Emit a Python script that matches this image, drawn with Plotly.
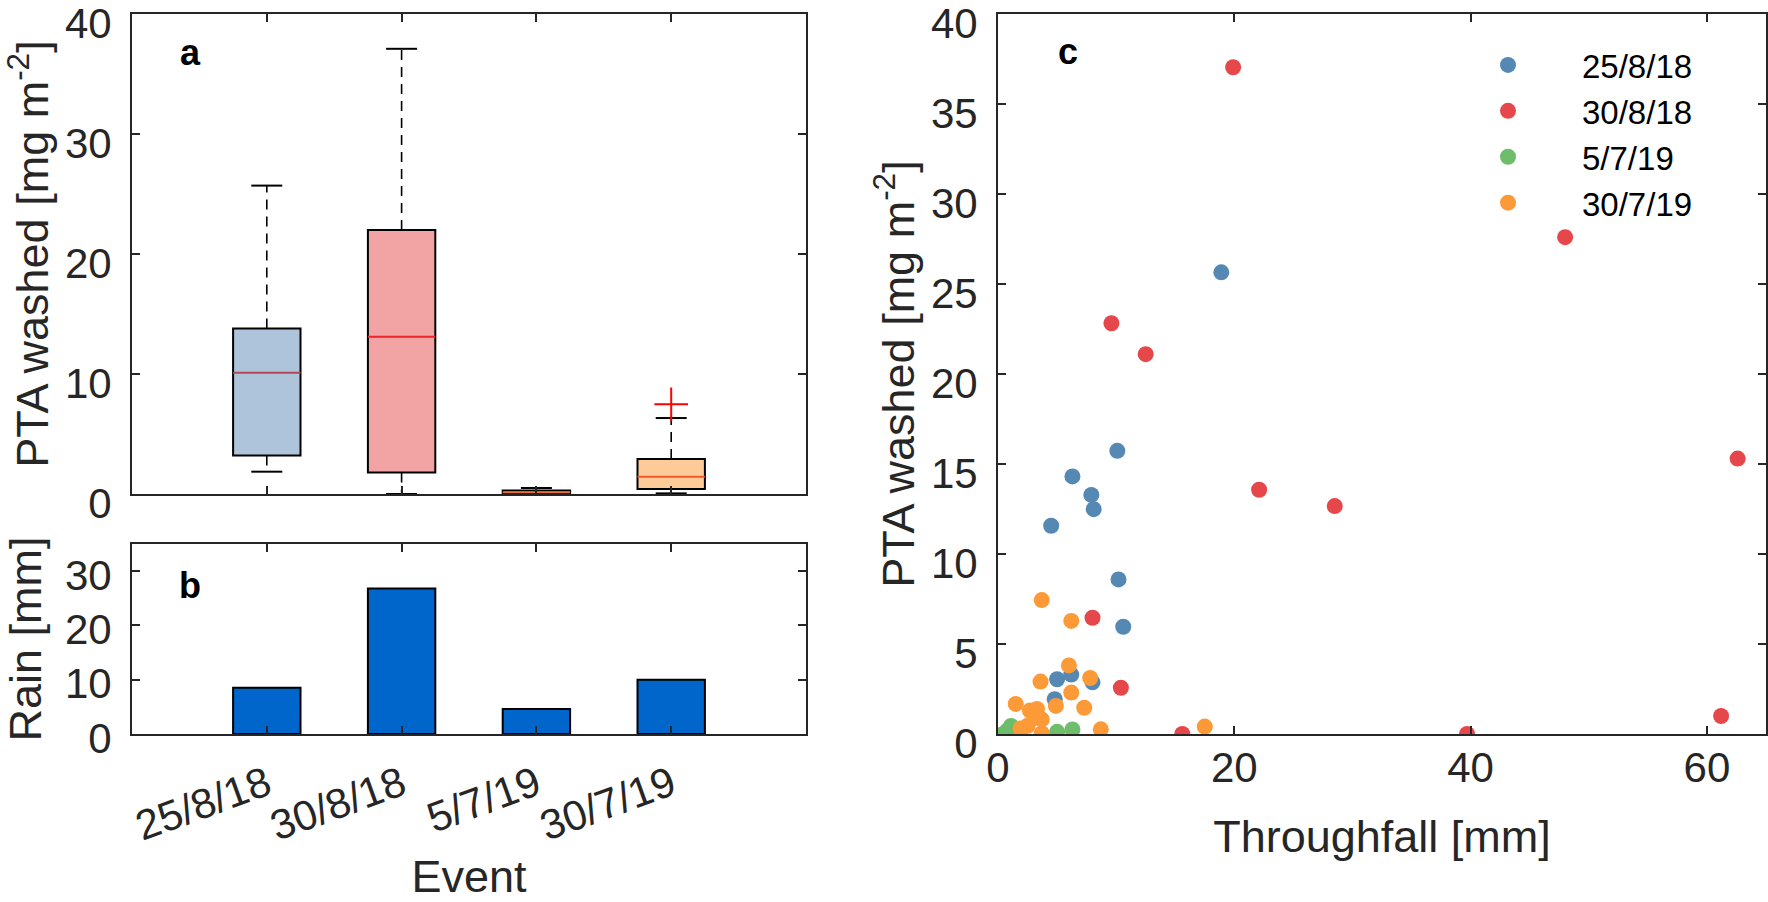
import plotly.graph_objects as go

# ---------------- data ----------------
events = ["25/8/18", "30/8/18", "5/7/19", "30/7/19"]

# panel a: box statistics (PTA washed, mg m-2)
box_lo = [1.86, 0.0, 0.0, 0.05]
box_q1 = [3.2, 1.8, 0.05, 0.42]
box_med = [10.1, 13.1, 0.15, 1.44]
box_q3 = [13.8, 22.0, 0.30, 2.92]
box_hi = [25.7, 37.1, 0.50, 6.33]
outlier_event = ["30/7/19"]
outlier_val = [7.47]

# panel b: rain (mm)
rain = [8.5, 26.8, 4.6, 10.0]

# panel c: throughfall (mm) vs PTA washed (mg m-2)
tf_25_8_18 = [18.9, 10.1, 6.3, 7.9, 8.1, 4.5, 10.2, 10.6, 5.0, 6.2, 8.0, 4.8]
pta_25_8_18 = [25.65, 15.73, 14.31, 13.28, 12.49, 11.57, 8.59, 5.96, 3.04, 3.30, 2.87, 1.93]
tf_30_8_18 = [19.9, 9.6, 12.5, 22.1, 28.5, 48.0, 62.6, 8.0, 10.4, 61.2, 15.6, 39.7]
pta_30_8_18 = [37.04, 22.82, 21.1, 13.57, 12.66, 27.6, 15.3, 6.46, 2.57, 1.0, 0.0, 0.0]
tf_5_7_19 = [0.4, 0.65, 0.8, 0.95, 1.1, 1.6, 1.9, 5.0, 6.3]
pta_5_7_19 = [0.0, 0.02, 0.2, 0.05, 0.45, 0.1, 0.2, 0.12, 0.25]
tf_30_7_19 = [3.7, 6.2, 6.0, 3.6, 7.8, 6.2, 1.5, 4.9, 7.3, 2.7, 3.3, 3.7, 2.5, 1.9, 3.7, 8.7, 17.5, 3.1]
pta_30_7_19 = [7.44, 6.28, 3.81, 2.91, 3.11, 2.30, 1.67, 1.56, 1.46, 1.30, 1.39, 0.81, 0.46, 0.31, 0.04, 0.26, 0.41, 0.9]

# ---------------- styles ----------------
FONT = "Liberation Sans, Arial, Helvetica, sans-serif"
AX = "#262626"
scatter_colors = ["#5588b3", "#e6474a", "#6dbd6b", "#fd9a38"]
box_fill = ["#adc4da", "#f2a4a5", "#b5652e", "#fdcb98"]
box_median = ["#b5475a", "#e8262b", "#f07030", "#f1592a"]
bar_color = "#0066cc"

pos = [i + 1 for i in range(len(events))]
half_box = 0.25
half_cap = 0.115

fig = go.Figure()

# ---- panel a : boxes ----
fig.add_trace(go.Bar(
    x=pos, y=[h - l for h, l in zip(box_q3, box_q1)], base=box_q1, width=0.5,
    marker=dict(color=box_fill, line=dict(color="black", width=2)),
    xaxis="x", yaxis="y", showlegend=False, hoverinfo="skip"))

for i, p in enumerate(pos):
    fig.add_trace(go.Scatter(
        x=[p, p, None, p, p], y=[box_q3[i], box_hi[i], None, box_q1[i], box_lo[i]],
        mode="lines", line=dict(color="black", width=1.6, dash="10px,7px"),
        xaxis="x", yaxis="y", showlegend=False, hoverinfo="skip"))
    fig.add_trace(go.Scatter(
        x=[p - half_cap, p + half_cap, None, p - half_cap, p + half_cap],
        y=[box_hi[i], box_hi[i], None, box_lo[i], box_lo[i]],
        mode="lines", line=dict(color="black", width=2),
        xaxis="x", yaxis="y", showlegend=False, hoverinfo="skip"))
    fig.add_trace(go.Scatter(
        x=[p - half_box, p + half_box], y=[box_med[i], box_med[i]],
        mode="lines", line=dict(color=box_median[i], width=2),
        xaxis="x", yaxis="y", showlegend=False, hoverinfo="skip"))

fig.add_trace(go.Scatter(
    x=[pos[events.index(e)] for e in outlier_event], y=outlier_val,
    mode="markers", marker=dict(symbol="cross-thin", size=24,
                                line=dict(color="#ff0000", width=2)),
    xaxis="x", yaxis="y", showlegend=False, hoverinfo="skip"))

# ---- panel b : rain bars ----
fig.add_trace(go.Bar(
    x=pos, y=rain, width=0.5,
    marker=dict(color=bar_color, line=dict(color="black", width=2)),
    xaxis="x2", yaxis="y2", showlegend=False))

# ---- panel c : scatter ----
series = [(tf_25_8_18, pta_25_8_18), (tf_30_8_18, pta_30_8_18),
          (tf_5_7_19, pta_5_7_19), (tf_30_7_19, pta_30_7_19)]
for (xs, ys), name, col in zip(series, events, scatter_colors):
    fig.add_trace(go.Scatter(
        x=xs, y=ys, mode="markers", name=name,
        marker=dict(color=col, size=16, line=dict(width=0)),
        xaxis="x3", yaxis="y3", showlegend=False))
for name, col in zip(events, scatter_colors):
    fig.add_trace(go.Scatter(
        x=[None], y=[None], mode="markers", name=name,
        marker=dict(color=col, size=25, line=dict(width=0)),
        xaxis="x3", yaxis="y3", showlegend=True))

W, H = 1768, 902
def fx(px):
    return px / W
def fy(py):
    return 1 - py / H

common = dict(showline=True, linecolor=AX, linewidth=2, mirror="ticks",
              ticks="inside", ticklen=8, tickwidth=2, tickcolor=AX,
              showgrid=False, zeroline=False, ticklabeloverflow="allow",
              automargin=False,
              tickfont=dict(family=FONT, size=42, color=AX))
title_font = dict(family=FONT, size=45, color=AX)
letter_font = dict(family=FONT, size=36, color="black")

fig.update_layout(
    width=W, height=H, autosize=False,
    margin=dict(l=0, r=0, t=0, b=0, pad=0, autoexpand=False),
    paper_bgcolor="white", plot_bgcolor="white",
    font=dict(family=FONT, color=AX),
    barmode="overlay",
    xaxis=dict(domain=[fx(132), fx(806)], range=[0, 5], tickvals=pos,
               showticklabels=False, anchor="y", **common),
    yaxis=dict(domain=[fy(494), fy(14)], range=[0, 40], tickvals=[0, 10, 20, 30, 40],
               anchor="x", ticklabelstandoff=10, ticklabelshift=9,
               title=dict(text="PTA washed [mg m<sup>-2</sup>]", font=title_font, standoff=12),
               **common),
    xaxis2=dict(domain=[fx(132), fx(806)], range=[0, 5], tickvals=pos, ticktext=events,
                tickangle=-20, anchor="y2", ticklabelstandoff=8,
                title=dict(text="Event", font=title_font, standoff=30),
                **common),
    yaxis2=dict(domain=[fy(734), fy(544)], range=[0, 35], tickvals=[0, 10, 20, 30],
                anchor="x2", ticklabelstandoff=10, ticklabelshift=4,
                title=dict(text="Rain [mm]", font=title_font, standoff=12),
                **common),
    xaxis3=dict(domain=[fx(998), fx(1766)], range=[0, 65], tickvals=[0, 20, 40, 60],
                anchor="y3", ticklabelstandoff=-4,
                title=dict(text="Throughfall [mm]", font=title_font, standoff=30),
                **common),
    yaxis3=dict(domain=[fy(734), fy(14)], range=[0, 40],
                tickvals=[0, 5, 10, 15, 20, 25, 30, 35, 40],
                anchor="x3", ticklabelstandoff=10, ticklabelshift=9,
                title=dict(text="PTA washed [mg m<sup>-2</sup>]", font=title_font, standoff=2),
                **common),
    legend=dict(x=fx(1434), y=fy(37), xanchor="left", yanchor="top",
                bgcolor="rgba(0,0,0,0)", font=dict(family=FONT, size=33, color="black"),
                itemsizing="trace", itemwidth=138, tracegroupgap=0),
    annotations=[
        dict(text="<b>a</b>", x=fx(190), y=fy(53), xref="paper", yref="paper",
             xanchor="center", yanchor="middle", showarrow=False, font=letter_font),
        dict(text="<b>b</b>", x=fx(190), y=fy(585), xref="paper", yref="paper",
             xanchor="center", yanchor="middle", showarrow=False, font=letter_font),
        dict(text="<b>c</b>", x=fx(1068), y=fy(52), xref="paper", yref="paper",
             xanchor="center", yanchor="middle", showarrow=False, font=letter_font),
    ],
)

fig.write_html("out.html", config={"displayModeBar": False},
               post_script="document.body.style.margin='0';document.body.style.overflow='hidden';")
